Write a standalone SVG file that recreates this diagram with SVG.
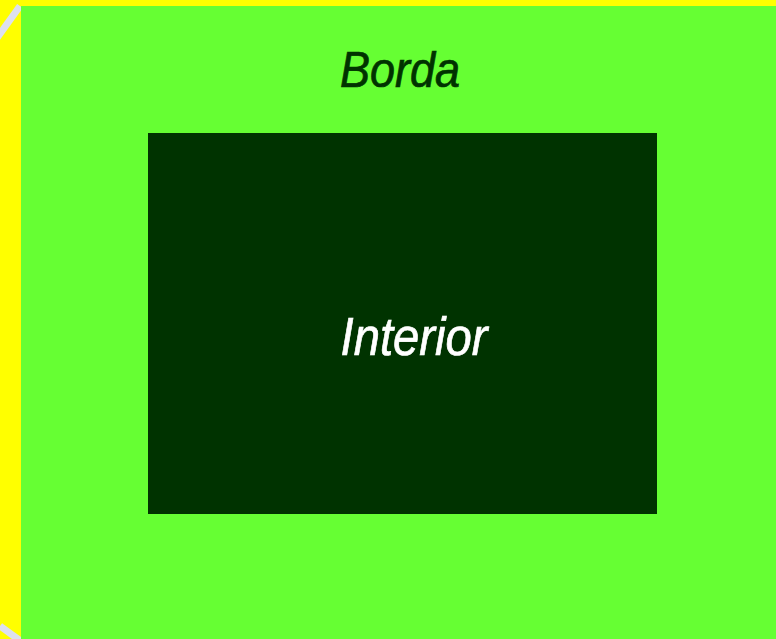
<svg xmlns="http://www.w3.org/2000/svg" width="776" height="639" viewBox="0 0 776 639">
<style>
.lbl{font-family:"Liberation Sans","Arial",sans-serif;font-style:italic;text-anchor:middle;stroke-width:0.7;}
</style>
<rect x="0" y="0" width="776" height="639" fill="#ffff00"/>
<line x1="-3" y1="38" x2="20" y2="6" stroke="#dde0ee" stroke-width="7"/>
<line x1="0" y1="626" x2="22" y2="642" stroke="#dde0ee" stroke-width="7"/>
<g id="borda">
<rect x="21" y="6" width="755" height="633" fill="#66ff33"/>
<text class="lbl" transform="translate(400,87) scale(0.9,1)" font-size="50" fill="#003300" stroke="#003300">Borda</text>
</g>
<g id="interior">
<rect x="148" y="133" width="509" height="381" fill="#003300"/>
<text class="lbl" transform="translate(414,355) scale(0.89,1)" font-size="53" fill="#ffffff" stroke="#ffffff">Interior</text>
</g>
</svg>
